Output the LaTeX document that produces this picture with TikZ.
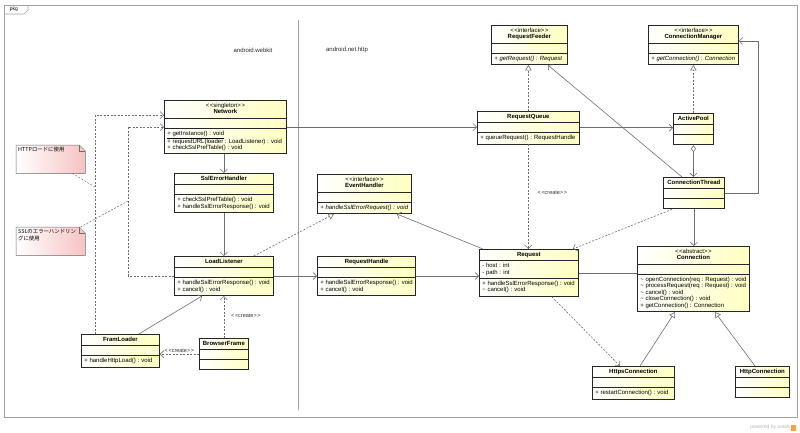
\documentclass[tikz,border=0pt]{standalone}
\usepackage{fontspec}
\setmainfont{Liberation Sans}
\newfontfamily\jp{Noto Sans CJK JP}
\usetikzlibrary{arrows.meta,shapes.multipart}
\definecolor{clsyellow}{HTML}{FFFFC2}
\definecolor{notepink}{HTML}{F8C2C2}
\definecolor{linegray}{HTML}{6E6E6E}
\definecolor{framegray}{HTML}{A0A0A0}
\newcommand{\ctab}[1]{\begin{tabular}{@{}c@{}}#1\end{tabular}}
\newcommand{\ltab}[1]{\begin{tabular}{@{}l@{}}#1\end{tabular}}
\newcommand{\stype}[1]{<\kern0.6pt<#1>\kern0.6pt>}
\tikzset{
 cls/.style={rectangle split,rectangle split parts=3,
             rectangle split part align={center,left,left},
             rectangle split empty part height=0pt,rectangle split empty part depth=0pt,
             draw=black!85,line width=0.8pt,left color=white,right color=clsyellow,
             inner xsep=3pt,inner ysep=2pt,anchor=north west,
             font=\fontsize{6}{6.5}\selectfont},
 link/.style={draw=linegray,line width=0.6pt},
 assoc/.style={link,-{Straight Barb[length=3.5pt,width=7pt]}},
 dep/.style={assoc,dash pattern=on 2pt off 1.5pt},
 real/.style={link,dash pattern=on 2pt off 1.5pt,-{Triangle[open,length=5.5pt,width=6.5pt]}},
 gen/.style={link,-{Triangle[open,length=5.5pt,width=6.5pt]}},
 aggr/.style={link,{Diamond[open,length=7pt,width=5pt]}-{Straight Barb[length=3.5pt,width=7pt]}},
 notelink/.style={link,line width=0.5pt,dash pattern=on 2pt off 1.5pt},
 stereo/.style={font=\fontsize{5.5}{6}\selectfont,text=black!80,inner sep=1pt},
 pkglabel/.style={font=\fontsize{6}{7}\selectfont,text=black!85},
 note/.style={left color=white,right color=notepink,anchor=north west,inner sep=2pt,
              minimum width=69pt,font=\jp\fontsize{5.4}{7.6}\selectfont}
}
\begin{document}
\begin{tikzpicture}[x=1pt,y=-1pt]
\useasboundingbox (0,0) rectangle (800,432);
% package frame
\draw[framegray,line width=0.7pt] (4,5) rectangle (797,417);
\draw[framegray,line width=0.7pt] (4,14) -- (24,14) -- (28,10) -- (28,5);
\node[font=\fontsize{5}{6}\selectfont] (pkg) at (14,9.5) {pkg};
\draw[framegray,line width=0.8pt] (298,20) -- (298,410);
\node[pkglabel] (webkit) at (253,50) {android.webkit};
\node[pkglabel] (nethttp) at (347,50) {android.net.http};

% android.webkit
\node[cls,minimum width=122pt] (network) at (164,100)
 {\ctab{\stype{singleton}\\\textbf{Network}}\nodepart{two}\nodepart{three}\ltab{\underline{+ getInstance() : void}\\+ requestURL(loader : LoadListener) : void\\+ checkSslPrefTable() : void}};
\node[cls,minimum width=99pt] (sslhandler) at (174,173)
 {\ctab{\textbf{SslErrorHandler}}\nodepart{two}\nodepart{three}\ltab{+ checkSslPrefTable() : void\\+ handleSslErrorResponse() : void}};
\node[cls,minimum width=99pt] (loadlistener) at (174,256)
 {\ctab{\textbf{LoadListener}}\nodepart{two}\nodepart{three}\ltab{+ handleSslErrorResponse() : void\\+ cancel() : void}};
\node[cls,minimum width=78pt] (framloader) at (81,334)
 {\ctab{\textbf{FramLoader}}\nodepart{two}\nodepart{three}\ltab{+ handleHttpLoad() : void}};
\node[cls,minimum width=49pt] (browserframe) at (199,338)
 {\ctab{\textbf{BrowserFrame}}\nodepart{two}\nodepart{three}};

% android.net.http
\node[cls,minimum width=94pt] (eventhandler) at (317,174)
 {\ctab{\stype{interface}\\\textbf{EventHandler}}\nodepart{two}\nodepart{three}\ltab{\textit{+ handleSslErrorRequest() : void}}};
\node[cls,minimum width=98pt] (reqhandle) at (317,256)
 {\ctab{\textbf{RequestHandle}}\nodepart{two}\nodepart{three}\ltab{+ handleSslErrorResponse() : void\\+ cancel() : void}};
\node[cls,minimum width=76pt] (reqfeeder) at (491,25)
 {\ctab{\stype{interface}\\\textbf{RequestFeeder}}\nodepart{two}\nodepart{three}\ltab{\textit{+ getRequest() : Request}}};
\node[cls,minimum width=102pt] (reqqueue) at (477,111)
 {\ctab{\textbf{RequestQueue}}\nodepart{two}\nodepart{three}\ltab{+ queueRequest() : RequestHandle}};
\node[cls,minimum width=99pt] (request) at (479,249)
 {\ctab{\textbf{Request}}\nodepart{two}\ltab{- host : int\\- path : int}\nodepart{three}\ltab{+ handleSslErrorResponse() : void\\\textasciitilde{} cancel() : void}};
\node[cls,minimum width=90pt] (connmanager) at (648,25)
 {\ctab{\stype{interface}\\\textbf{ConnectionManager}}\nodepart{two}\nodepart{three}\ltab{\textit{+ getConnection() : Connection}}};
\node[cls,minimum width=40pt] (activepool) at (673,113)
 {\ctab{\textbf{ActivePool}}\nodepart{two}\nodepart{three}};
\node[cls,minimum width=61pt] (connthread) at (663,177)
 {\ctab{\textbf{ConnectionThread}}\nodepart{two}\nodepart{three}};
\node[cls,minimum width=112pt] (connection) at (637,246)
 {\ctab{\stype{abstract}\\\textbf{Connection}}\nodepart{two}\nodepart{three}\ltab{\textasciitilde{} openConnection(req : Request) : void\\\textasciitilde{} processRequest(req : Request) : void\\\textasciitilde{} cancel() : void\\\textasciitilde{} closeConnection() : void\\+ getConnection() : Connection}};
\node[cls,minimum width=82pt] (httpsconn) at (592,366)
 {\ctab{\textbf{HttpsConnection}}\nodepart{two}\nodepart{three}\ltab{+ restartConnection() : void}};
\node[cls,minimum width=54pt] (httpconn) at (735,366)
 {\ctab{\textbf{HttpConnection}}\nodepart{two}\nodepart{three}};

% notes
\node[note] (httpnote) at (16,145) {\parbox[t][24pt][t]{65pt}{HTTPロードに使用}};
\node[note] (sslnote) at (16,227) {\parbox[t][24pt][t]{65pt}{SSLのエラーハンドリン\\グに使用}};
\foreach \n in {httpnote,sslnote}{
  \fill[white] ([xshift=-6pt]\n.north east) -- (\n.north east) -- ([yshift=-6pt]\n.north east) -- cycle;
  \draw[link,line width=0.5pt] (\n.north west) -- ([xshift=-6pt]\n.north east) -- ([yshift=-6pt]\n.north east) |- (\n.south west) -- cycle;
  \draw[link,line width=0.5pt] ([xshift=-6pt]\n.north east) |- ([yshift=-6pt]\n.north east);
}
\coordinate (httpanchor) at (95,187);
\coordinate (sslanchor) at (128,201);
\draw[notelink] ([xshift=-13pt]httpnote.south east) -- (httpanchor);
\draw[notelink] ([xshift=-5pt]sslnote.north east) -- (sslanchor);

% connectors
\draw[assoc] (network.east) -- (network.east -| reqqueue.west);
\draw[assoc] (reqqueue.east) -- (reqqueue.east -| activepool.west);
\draw[assoc] (network.south -| sslhandler.north) -- (sslhandler.north);
\draw[assoc] (sslhandler.south) -- (loadlistener.north);
\draw[assoc] (loadlistener.east) -- (loadlistener.east -| reqhandle.west);
\draw[assoc] (reqhandle.east) -- (reqhandle.east -| request.west);
\draw[link] (request.east) -- (request.east -| connection.west);
\draw[assoc] ([xshift=4pt]request.north west) -- ([xshift=-15pt]eventhandler.south east);
\draw[real] ([xshift=-20pt]loadlistener.north east) -- ([xshift=17pt]eventhandler.south west);
\draw[real] (reqqueue.north) -- (reqqueue.north |- reqfeeder.south);
\draw[real] (activepool.north) -- (activepool.north |- connmanager.south);
\draw[assoc] ([xshift=19pt]connthread.north west) -- ([xshift=-20pt]reqfeeder.south east);
\draw[assoc] (connthread.east) -- ++(33pt,0) |- ([yshift=4pt]connmanager.east);
\draw[aggr] (activepool.south) -- (activepool.south |- connthread.north);
\draw[assoc] (connthread.south) -- (connthread.south |- connection.north);
\draw[dep] ([xshift=9pt]connthread.south west) -- ([xshift=-6pt]request.north east);
\draw[dep] (reqqueue.south) -- (reqqueue.south |- request.north)
  node[stereo,pos=0.46,right=8pt] {\stype{create}};
\draw[dep] ([xshift=-27pt]request.south east) -- ([xshift=28pt]httpsconn.north west);
\draw[gen] ([xshift=48pt]httpsconn.north west) -- ([xshift=38pt]connection.south west);
\draw[gen] ([xshift=20pt]httpconn.north west) -- ([xshift=-35pt]connection.south east);
\draw[assoc] ([xshift=-21pt]framloader.north east) -- ([xshift=28pt]loadlistener.south west);
\draw[dep] (browserframe.north) -- (browserframe.north |- loadlistener.south)
  node[stereo,pos=0.54,right=6pt] {\stype{create}};
\draw[dep] (browserframe.west) -- (browserframe.west -| framloader.east)
  node[stereo,midway,above=0.5pt] {\stype{create}};
\draw[dep] ([xshift=14pt]framloader.north west) |- ([yshift=12pt]network.west);
\draw[dep] (loadlistener.west) -- ++(-46pt,0) |- (network.west);

\node[font=\fontsize{5}{6}\selectfont,text=gray!55,inner sep=0.5pt] (astah) at (770,427) {powered by astah};
\fill[orange!75] ([xshift=1pt,yshift=-0.5pt]astah.south east) rectangle ++(5pt,6pt);
\end{tikzpicture}
\end{document}
